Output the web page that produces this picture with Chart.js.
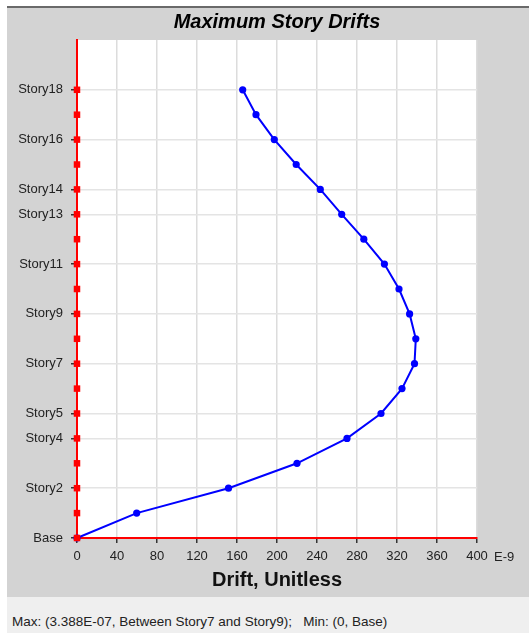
<!DOCTYPE html>
<html>
<head>
<meta charset="utf-8">
<script src="https://cdn.jsdelivr.net/npm/chart.js@4"></script>
<style>
    html, body { margin: 0; padding: 0; background: #fff; }
    body { width: 529px; height: 633px; position: relative; overflow: hidden; font-family: "Liberation Sans", Arial, sans-serif; }
    #topLine { position: absolute; left: 7px; top: 6px; width: 522px; height: 2px; background: #6a6a6a; }
    #panel { position: absolute; left: 7px; top: 8px; width: 522px; height: 589px; background: #d3d3d3; }
    #status { position: absolute; left: 7px; top: 597px; width: 522px; height: 36px; background: #efefef; }
    #status span { position: absolute; left: 5px; top: 17px; font-size: 13.5px; color: #222; white-space: pre; }
</style>
</head>
<body>
<div id="topLine"></div>
<div id="panel"><canvas id="driftChart" width="522" height="589"></canvas></div>
<div id="status"><span>Max: (3.388E-07, Between Story7 and Story9);   Min: (0, Base)</span></div>

<script>
// =====================
// Данные
// =====================
const stories = [
    "Base", "Story1", "Story2", "Story3", "Story4", "Story5", "Story6",
    "Story7", "Story8", "Story9", "Story10", "Story11", "Story12",
    "Story13", "Story14", "Story15", "Story16", "Story17", "Story18"
];
// подписи, которые видны на оси
const shownStories = ["Base", "Story2", "Story4", "Story5", "Story7", "Story9", "Story11", "Story13", "Story14", "Story16", "Story18"];
// дрейф, единицы E-9
const drift = [0, 59.7, 151.5, 220, 270, 304, 325, 337.5, 338.8, 332.6, 322, 307.4, 286.8, 264.7, 243.3, 219.2, 197.3, 179, 165.7];
const xTicks = [0, 40, 80, 120, 160, 200, 240, 280, 320, 360, 400];

const isShown = i => shownStories.includes(stories[i]);

// белый фон области графика
const plotBg = {
    id: "plotBg",
    beforeDraw(chart) {
        const { ctx, chartArea: a } = chart;
        ctx.save();
        ctx.fillStyle = "#fff";
        ctx.fillRect(a.left, a.top, a.right - a.left, a.bottom - a.top);
        ctx.restore();
    }
};

// подпись "E-9" справа от оси X
const unitLabel = {
    id: "unitLabel",
    afterDraw(chart) {
        const ctx = chart.ctx;
        const x = chart.scales.x;
        ctx.save();
        ctx.font = "13px 'Liberation Sans', Arial";
        ctx.fillStyle = "#222";
        ctx.textBaseline = "middle";
        ctx.textAlign = "left";
        ctx.fillText("E-9", x.right + 17, x.top + 19);
        ctx.restore();
    }
};

new Chart(document.getElementById("driftChart"), {
    type: "scatter",
    data: {
        datasets: [
            {
                // красные маркеры этажей на оси
                data: stories.map((s, i) => ({ x: 0, y: i })),
                pointStyle: "rect",
                pointRadius: 4.6,
                pointBorderWidth: 0,
                backgroundColor: "#ff0000",
                borderColor: "#ff0000",
                showLine: false,
                clip: false
            },
            {
                data: drift.map((v, i) => ({ x: v, y: i })),
                borderColor: "#0000ff",
                backgroundColor: "#0000ff",
                borderWidth: 2,
                pointRadius: 3.6,
                pointBorderWidth: 0,
                showLine: true,
                tension: 0,
                clip: false
            }
        ]
    },
    options: {
        responsive: false,
        animation: false,
        layout: { padding: { left: 0, right: 52, top: 0, bottom: 0 } },
        plugins: {
            legend: { display: false },
            tooltip: { enabled: false },
            title: {
                display: true,
                fullSize: false,
                text: "Maximum Story Drifts",
                color: "#000",
                font: { family: "'Liberation Sans', Arial", size: 20, weight: "bold", style: "italic" },
                padding: { top: 2, bottom: 6 }
            }
        },
        scales: {
            x: {
                type: "linear",
                min: 0,
                max: 400,
                afterBuildTicks: s => { s.ticks = xTicks.map(v => ({ value: v })); },
                afterFit: s => { s.height = 59; },
                ticks: {
                    color: "#222",
                    padding: 6,
                    maxRotation: 0,
                    font: { family: "'Liberation Sans', Arial", size: 13 }
                },
                grid: { color: "#dcdcdc", lineWidth: 1.5, tickLength: 5, tickColor: "#333" },
                border: { color: "#ff0000", width: 2 },
                title: {
                    display: true,
                    text: "Drift, Unitless",
                    color: "#111",
                    font: { family: "'Liberation Sans', Arial", size: 20, weight: "bold" },
                    padding: { top: 0, bottom: 5 }
                }
            },
            y: {
                type: "linear",
                min: 0,
                max: 20,
                afterBuildTicks: s => { s.ticks = stories.map((n, i) => ({ value: i })); },
                afterFit: s => { s.width = 70; },
                ticks: {
                    color: "#222",
                    padding: 8,
                    font: { family: "'Liberation Sans', Arial", size: 13 },
                    callback: v => isShown(v) ? stories[v] : ""
                },
                grid: {
                    color: c => isShown(c.index) ? "#e4e4e4" : "transparent",
                    tickColor: c => isShown(c.index) ? "#333" : "transparent",
                    lineWidth: 1.5,
                    tickLength: 6
                },
                border: { color: "#ff0000", width: 2 }
            }
        }
    },
    plugins: [plotBg, unitLabel]
});
</script>
</body>
</html>
